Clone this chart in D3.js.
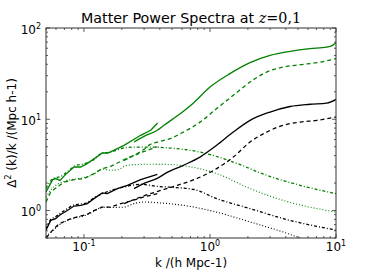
<!DOCTYPE html>
<html>
<head>
<meta charset="utf-8">
<script src="https://cdn.jsdelivr.net/npm/d3@7"></script>
<style>
  body { margin: 0; background: #fff; }
  text { font-family: "DejaVu Sans", sans-serif; fill: #000; }
</style>
</head>
<body>
<div id="chart"></div>
<script>
// ---- data (k in h/Mpc, value = Delta^2(k)/k) ----
var kGreenSolidLow = [0.05, 0.0565, 0.0597, 0.0646, 0.0716, 0.0834, 0.094, 0.106, 0.14, 0.155, 0.208, 0.282, 0.339, 0.384];
var vGreenSolidLow = [1.60, 2.18, 2.24, 2.14, 2.49, 3.0, 3.0, 3.27, 4.27, 4.27, 5.18, 6.67, 7.57, 9.1];
var kGreenSolid = [0.25, 0.30, 0.382, 0.432, 0.551, 0.748, 1.0, 1.44, 2.08, 3.0, 4.32, 6.22, 8.45, 9.3, 10];
var vGreenSolid = [5.63, 6.5, 7.57, 8.6, 10.9, 15.3, 22.5, 31.6, 41.7, 50, 55.4, 59.4, 61.8, 64, 69];

var kGreenDashLow = [0.05, 0.0545, 0.0615, 0.0695, 0.0834, 0.1, 0.12, 0.14, 0.163, 0.221, 0.282, 0.382];
var vGreenDashLow = [1.24, 1.60, 1.81, 2.05, 2.18, 2.24, 2.54, 2.88, 3.05, 3.75, 4.3, 5.0];
var kGreenDash = [0.208, 0.30, 0.334, 0.382, 0.482, 0.615, 0.834, 1.13, 1.53, 2.08, 2.82, 3.82, 5.19, 7.04, 10];
var vGreenDash = [3.55, 4.7, 5.27, 5.63, 6.13, 7.24, 9.3, 13.1, 18.3, 25.6, 32.9, 37.3, 39.6, 41.7, 46.1];

var kGreenDashDot = [0.05, 0.057, 0.065, 0.075, 0.085, 0.1, 0.12, 0.14, 0.16, 0.208, 0.25, 0.334, 0.482, 0.834, 1.53, 2.82, 5.19, 10];
var vGreenDashDot = [1.75, 2.25, 2.35, 2.7, 3.1, 3.25, 3.6, 4.27, 4.35, 4.85, 4.95, 4.96, 4.84, 4.37, 3.4, 2.43, 1.89, 1.53];
var kGreenDot = [0.05, 0.055, 0.062, 0.07, 0.083, 0.1, 0.12, 0.14, 0.163, 0.185, 0.221, 0.318, 0.45, 0.578, 1.13, 2.08, 3.82, 10];
var vGreenDot = [1.4, 1.7, 1.95, 2.1, 2.2, 2.3, 2.5, 2.85, 2.76, 2.8, 3.13, 3.21, 3.2, 3.13, 2.54, 1.74, 1.29, 0.96];

var kBlackSolidLow = [0.05, 0.0545, 0.0597, 0.064, 0.0738, 0.0834, 0.0943, 0.1064, 0.12, 0.14, 0.1535, 0.184, 0.221, 0.282, 0.382];
var vBlackSolidLow = [0.61, 0.78, 0.815, 0.887, 1.0, 1.12, 1.14, 1.19, 1.35, 1.56, 1.53, 1.74, 1.89, 2.18, 2.49];
var kBlackSolid = [0.25, 0.30, 0.382, 0.454, 0.615, 0.834, 1.13, 1.53, 2.08, 3.0, 4.32, 6.22, 8.45, 10];
var vBlackSolid = [1.74, 1.98, 2.25, 2.6, 3.13, 3.85, 5.18, 7.24, 9.73, 12.0, 13.8, 14.6, 15.05, 16.5];

var kBlackDashLow = [0.05, 0.0579, 0.064, 0.0785, 0.0886, 0.1064, 0.12, 0.14, 0.163, 0.196, 0.235, 0.30, 0.382];
var vBlackDashLow = [0.5, 0.634, 0.719, 0.815, 0.85, 0.91, 1.0, 1.09, 1.09, 1.19, 1.27, 1.41, 1.53];
var kBlackDash = [0.208, 0.30, 0.407, 0.551, 0.748, 1.13, 1.53, 2.08, 2.82, 3.82, 5.19, 7.04, 10];
var vBlackDash = [1.19, 1.45, 1.66, 1.89, 2.18, 2.88, 3.85, 5.63, 7.24, 8.6, 9.3, 9.73, 10.6];

var kBlackDashDot = [0.05, 0.0545, 0.06, 0.064, 0.074, 0.083, 0.094, 0.106, 0.12, 0.14, 0.208, 0.282, 0.382, 0.551, 0.748, 1.13, 2.08, 3.82, 10];
var vBlackDashDot = [0.63, 0.8, 0.86, 0.92, 1.05, 1.15, 1.18, 1.22, 1.38, 1.53, 1.81, 1.94, 1.84, 1.78, 1.70, 1.35, 1.05, 0.815, 0.61];
var kBlackDot = [0.05, 0.058, 0.064, 0.078, 0.089, 0.106, 0.12, 0.14, 0.163, 0.208, 0.25, 0.30, 0.407, 0.615, 1.13, 2.08, 3.82, 5.2, 10];
var vBlackDot = [0.52, 0.62, 0.7, 0.8, 0.84, 0.9, 0.98, 1.09, 1.08, 1.09, 1.19, 1.24, 1.21, 1.14, 0.96, 0.75, 0.58, 0.5, 0.38];

var xTickVals = [0.1, 1, 10];
var xTickExp = ["-1", "0", "1"];
var yTickVals = [1, 10, 100];
var yTickExp = ["0", "1", "2"];

// ---- layout ----
var W = 374, H = 280;
var margin = { top: 28, right: 38, bottom: 42, left: 46 },
    width = W - margin.left - margin.right,
    height = H - margin.top - margin.bottom;

var svg = d3.select("#chart").append("svg")
    .attr("width", W)
    .attr("height", H);

var g = svg.append("g")
    .attr("transform", "translate(" + margin.left + "," + margin.top + ")");

var x = d3.scaleLog().domain([0.05, 10]).range([0, width]);
var y = d3.scaleLog().domain([0.5, 100]).range([height, 0]);

g.append("clipPath").attr("id", "clip")
    .append("rect").attr("width", width).attr("height", height);

function zip(ks, vs) {
    return ks.map(function (k, i) { return { k: k, v: vs[i] }; });
}

var green = "#008000", black = "#000000";
var series = [
    { d: zip(kGreenDot, vGreenDot), c: green, dash: "1,2", curve: d3.curveMonotoneX },
    { d: zip(kGreenDashDot, vGreenDashDot), c: green, dash: "3,2,1,2", curve: d3.curveMonotoneX },
    { d: zip(kGreenDashLow, vGreenDashLow), c: green, dash: "4,3", curve: d3.curveLinear },
    { d: zip(kGreenDash, vGreenDash), c: green, dash: "4,3", curve: d3.curveMonotoneX },
    { d: zip(kGreenSolidLow, vGreenSolidLow), c: green, dash: null, curve: d3.curveLinear },
    { d: zip(kGreenSolid, vGreenSolid), c: green, dash: null, curve: d3.curveMonotoneX },
    { d: zip(kBlackDot, vBlackDot), c: black, dash: "1,2", curve: d3.curveMonotoneX },
    { d: zip(kBlackDashDot, vBlackDashDot), c: black, dash: "3,2,1,2", curve: d3.curveMonotoneX },
    { d: zip(kBlackDashLow, vBlackDashLow), c: black, dash: "4,3", curve: d3.curveLinear },
    { d: zip(kBlackDash, vBlackDash), c: black, dash: "4,3", curve: d3.curveMonotoneX },
    { d: zip(kBlackSolidLow, vBlackSolidLow), c: black, dash: null, curve: d3.curveLinear },
    { d: zip(kBlackSolid, vBlackSolid), c: black, dash: null, curve: d3.curveMonotoneX }
];

var lines = g.append("g").attr("clip-path", "url(#clip)");
series.forEach(function (s) {
    var line = d3.line()
        .x(function (d) { return x(d.k); })
        .y(function (d) { return y(d.v); })
        .curve(s.curve);
    lines.append("path")
        .datum(s.d)
        .attr("d", line)
        .attr("fill", "none")
        .attr("stroke", s.c)
        .attr("stroke-width", s.dash == "1,2" ? 1.1 : 1.3)
        .attr("stroke-dasharray", s.dash);
});

// frame
g.append("rect")
    .attr("width", width).attr("height", height)
    .attr("fill", "none").attr("stroke", "#333").attr("stroke-width", 1);

// ticks: inward, on all four sides
var xMinor = [], yMinor = [];
[0.01, 0.1, 1].forEach(function (b) {
    for (var m = 2; m <= 9; m++) {
        var v = m * b;
        if (v >= 0.05 && v <= 10) xMinor.push(v);
    }
});
[0.1, 1, 10].forEach(function (b) {
    for (var m = 2; m <= 9; m++) {
        var v = m * b;
        if (v >= 0.5 && v <= 100) yMinor.push(v);
    }
});

var ticks = g.append("g").attr("stroke", "#333").attr("stroke-width", 0.8);
function xTick(v, len) {
    var px = x(v);
    ticks.append("line").attr("x1", px).attr("x2", px).attr("y1", height).attr("y2", height - len);
    ticks.append("line").attr("x1", px).attr("x2", px).attr("y1", 0).attr("y2", len);
}
function yTick(v, len) {
    var py = y(v);
    ticks.append("line").attr("y1", py).attr("y2", py).attr("x1", 0).attr("x2", len);
    ticks.append("line").attr("y1", py).attr("y2", py).attr("x1", width).attr("x2", width - len);
}
xMinor.forEach(function (v) { xTick(v, 2); });
yMinor.forEach(function (v) { yTick(v, 2); });
xTickVals.forEach(function (v) { xTick(v, 4); });
yTickVals.forEach(function (v) { yTick(v, 4); });

// tick labels
xTickVals.forEach(function (v, i) {
    var t = g.append("text")
        .attr("x", x(v))
        .attr("y", height + 13)
        .attr("text-anchor", "middle")
        .style("font-size", "12px");
    t.append("tspan").text("10");
    t.append("tspan").attr("dy", -5).style("font-size", "8px").text(xTickExp[i]);
});
yTickVals.forEach(function (v, i) {
    var t = g.append("text")
        .attr("x", -5)
        .attr("y", y(v) + 5.5)
        .attr("text-anchor", "end")
        .style("font-size", "12px");
    t.append("tspan").text("10");
    t.append("tspan").attr("dy", -5).style("font-size", "8px").text(yTickExp[i]);
});

// title
var title = svg.append("text")
    .attr("x", margin.left + width / 2)
    .attr("y", 23)
    .attr("text-anchor", "middle")
    .style("font-size", "14.3px");
title.append("tspan").text("Matter Power Spectra at ");
title.append("tspan").style("font-family", "DejaVu Serif").style("font-style", "italic").text("z");
title.append("tspan").style("font-family", "DejaVu Serif").text("=0,1");

// axis labels
svg.append("text")
    .attr("x", margin.left + width / 2)
    .attr("y", 267)
    .attr("text-anchor", "middle")
    .style("font-size", "12px")
    .text("k /(h Mpc-1)");

var ylab = svg.append("text")
    .attr("transform", "translate(16," + (margin.top + height / 2) + ") rotate(-90)")
    .attr("text-anchor", "middle")
    .style("font-size", "12px");
ylab.append("tspan").text("\u0394");
ylab.append("tspan").attr("dy", -5).style("font-size", "8px").text("2");
ylab.append("tspan").attr("dy", 5).text(" (k)/k /(Mpc h-1)");
</script>
</body>
</html>
